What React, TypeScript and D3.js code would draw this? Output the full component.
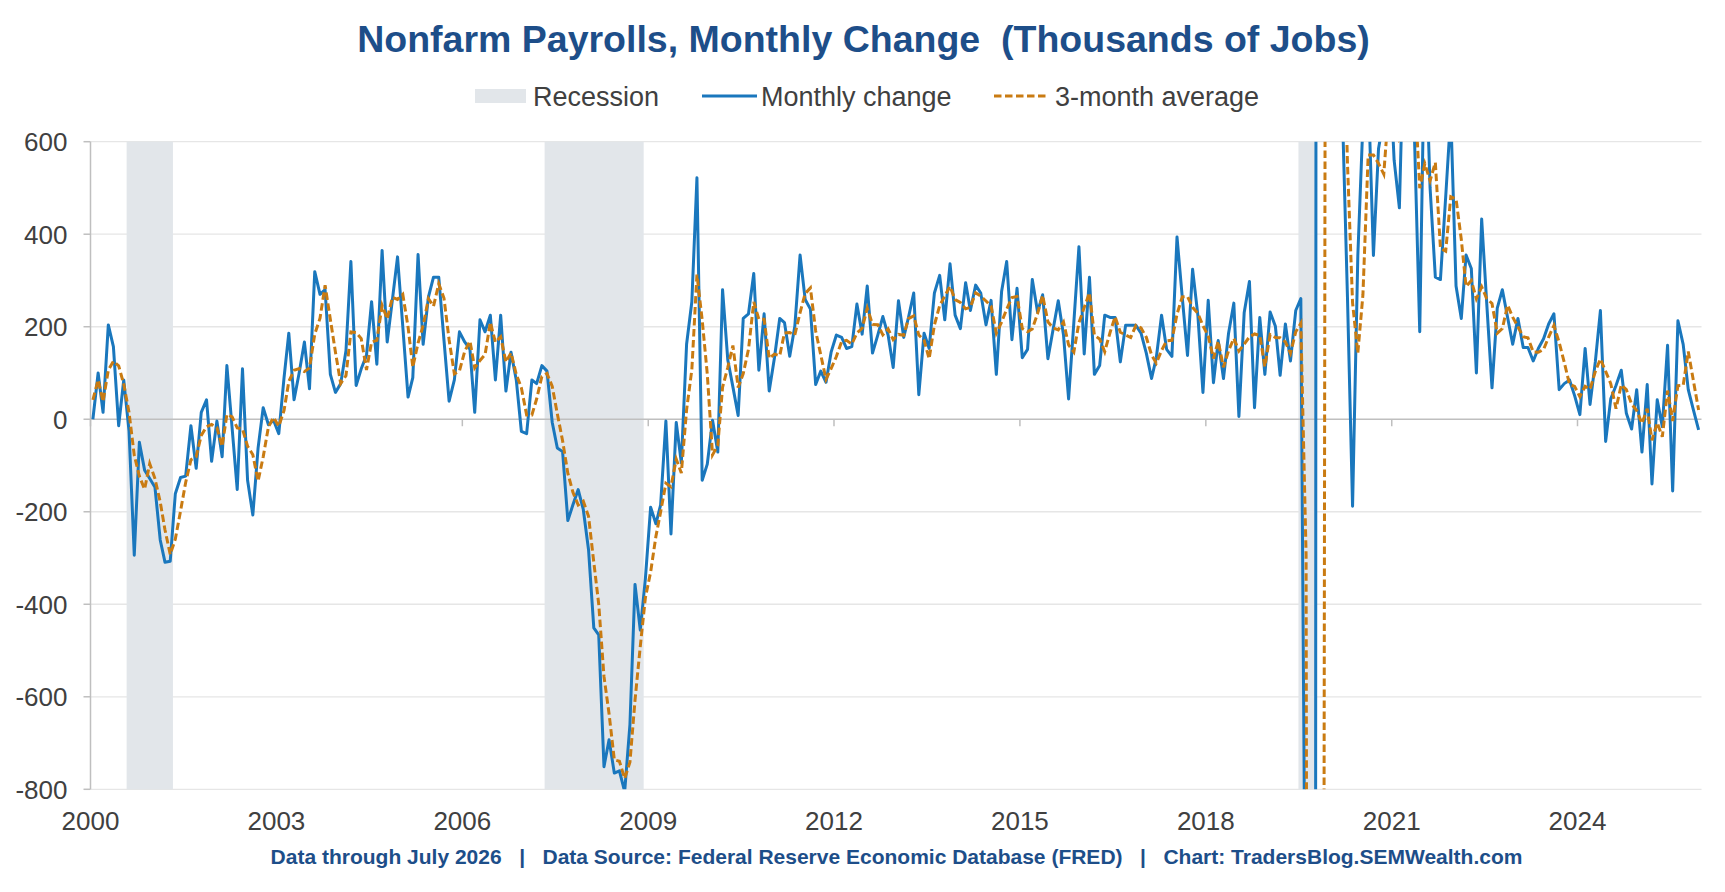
import * as d3 from 'd3'

// Monthly change in nonfarm payrolls (thousands), one value per month from Jan 2000
const monthlyChange = [
  0, 100, 15, 204, 157, -14, 85, -25, -294, -50,
  -110, -128, -147, -261, -309, -307, -161, -126, -123, -14,
  -106, 15, 42, -91, -4, -81, 116, -20, -152, 109,
  -132, -207, -62, 25, -12, -2, -31, 90, 186, 42,
  100, 167, 66, 319, 270, 280, 97, 58, 77, 148,
  341, 73, 109, 138, 254, 119, 365, 167, 259, 351,
  200, 48, 90, 356, 162, 264, 307, 307, 170, 39,
  85, 189, 167, 151, 15, 215, 189, 225, 85, 225,
  61, 145, 85, -26, -31, 85, 77, 116, 104, -7,
  -62, -70, -219, -185, -152, -195, -282, -451, -466, -751,
  -693, -765, -760, -805, -660, -357, -456, -345, -190, -226,
  -185, -4, -248, -7, -94, 162, 254, 522, -132, -97,
  -2, -71, 280, 128, 70, 8, 218, 228, 315, 106,
  228, 61, 133, 218, 209, 136, 201, 355, 259, 238,
  75, 104, 80, 145, 182, 177, 153, 157, 249, 184,
  288, 143, 182, 222, 182, 112, 256, 177, 220, 273,
  53, 186, 153, 273, 311, 215, 336, 225, 196, 295,
  235, 290, 273, 204, 257, 97, 276, 341, 172, 283,
  133, 151, 302, 232, 269, 131, 193, 256, 182, 44,
  210, 373, 141, 307, 97, 116, 225, 220, 220, 124,
  203, 203, 203, 186, 143, 88, 133, 225, 151, 136,
  394, 264, 138, 324, 225, 58, 257, 79, 170, 88,
  186, 251, 6, 230, 298, 25, 220, 97, 232, 201,
  95, 206, 126, 235, 261, -1373, -20477, 2833, 4846, 1726,
  1583, 716, 680, 263, -188, 354, 640, 720, 354, 585,
  651, 800, 560, 457, 850, 700, 610, 189, 858, 500,
  307, 302, 481, 660, 288, 218, 355, 326, 100, 433,
  250, 68, 240, 280, 220, 162, 218, 155, 155, 126,
  153, 174, 206, 228, 64, 77, 85, 51, 10, 153,
  32, 124, 235, -48, 44, 73, 106, 13, -21, 64,
  -71, 75, -140, 42, -16, 160, -155, 213, 162, 64,
  19, -23
]

// the two months before the series, only used to seed the trailing 3-month average
const priorMonths = [-29, 155]

const recessions = [
  ['2000-08-01', '2001-05-01'],
  ['2007-05-01', '2008-12-05'],
  ['2019-07-01', '2019-10-12']
]

const yTicks = [600, 400, 200, 0, -200, -400, -600, -800]
const xTickYears = [2000, 2003, 2006, 2009, 2012, 2015, 2018, 2021, 2024]

const titleText = 'Nonfarm Payrolls, Monthly Change  (Thousands of Jobs)'
const footerText = 'Data through July 2026   |   Data Source: Federal Reserve Economic Database (FRED)   |   Chart: TradersBlog.SEMWealth.com'

const W = 1725
const H = 892
const plot = { left: 90.5, right: 1701.5, top: 141.7, bottom: 789.3 }

const BLUE = '#1a77bd'
const ORANGE = '#c97b12'
const NAVY = '#1d4e89'
const TEXT = '#404040'
const BAND = '#e2e6ea'
const FONT = '"Liberation Sans", Arial, sans-serif'
const DASH = '7.5,3.5'

export default function App() {
  const x = d3.scaleTime()
    .domain([new Date(2000, 0, 1), new Date(2026, 0, 1)])
    .range([plot.left, plot.right])

  const y = d3.scaleLinear()
    .domain([-800, 600])
    .range([plot.bottom, plot.top])

  const monthDate = (i: number) => new Date(2000, i, 15)

  // trailing 3-month average
  const padded = priorMonths.concat(monthlyChange)
  const average = monthlyChange.map((_, i) => d3.mean(padded.slice(i, i + 3)) as number)

  const line = d3.line<number>()
    .x((_, i) => x(monthDate(i)))
    .y(d => y(d))

  const legendY = 96

  return (
    <div style={{ position: 'absolute', left: 0, top: 0 }}>
      <svg width={W} height={H} style={{ display: 'block', background: '#fff' }}>
        <defs>
          <clipPath id="plot-clip">
            <rect x={plot.left} y={plot.top} width={plot.right - plot.left} height={plot.bottom - plot.top} />
          </clipPath>
        </defs>

        <text x={863.5} y={51.5} textAnchor="middle" fill={NAVY} fontFamily={FONT}
          fontSize={37.5} fontWeight="bold" style={{ whiteSpace: 'pre' }}>
          {titleText}
        </text>

        {/* legend */}
        <g fontFamily={FONT} fontSize={27} fill={TEXT}>
          <rect x={475} y={legendY - 7} width={51} height={14} fill={BAND} />
          <text x={533} y={legendY + 9.7}>Recession</text>
          <line x1={702} x2={757} y1={legendY} y2={legendY} stroke={BLUE} strokeWidth={3} />
          <text x={761} y={legendY + 9.7}>Monthly change</text>
          <line x1={994} x2={1049} y1={legendY} y2={legendY} stroke={ORANGE} strokeWidth={3} strokeDasharray={DASH} />
          <text x={1055} y={legendY + 9.7}>3-month average</text>
        </g>

        {/* gridlines */}
        {yTicks.filter(t => t !== 0).map(t => (
          <line key={t} x1={plot.left} x2={plot.right} y1={y(t)} y2={y(t)} stroke="#e6e6e6" strokeWidth={1.3} />
        ))}

        {/* recession bands */}
        {recessions.map(([a, b]) => {
          const x0 = x(new Date(a))
          const x1 = x(new Date(b))
          return <rect key={a} x={x0} y={plot.top} width={x1 - x0} height={plot.bottom - plot.top} fill={BAND} />
        })}

        {/* axes */}
        <line x1={plot.left} x2={plot.right} y1={y(0)} y2={y(0)} stroke="#bfbfbf" strokeWidth={1.5} />
        <line x1={plot.left} x2={plot.left} y1={plot.top} y2={plot.bottom} stroke="#bfbfbf" strokeWidth={1.5} />
        {yTicks.map(t => (
          <g key={t}>
            <line x1={plot.left - 7} x2={plot.left} y1={y(t)} y2={y(t)} stroke="#bfbfbf" strokeWidth={1.5} />
            <text x={67.5} y={y(t) + 9.3} textAnchor="end" fill={TEXT} fontFamily={FONT} fontSize={26}>{t}</text>
          </g>
        ))}
        {xTickYears.map(yr => {
          const xt = x(new Date(yr, 0, 1))
          return (
            <g key={yr}>
              <line x1={xt} x2={xt} y1={y(0)} y2={y(0) + 7} stroke="#bfbfbf" strokeWidth={1.5} />
              <text x={xt} y={830} textAnchor="middle" fill={TEXT} fontFamily={FONT} fontSize={26}>{yr}</text>
            </g>
          )
        })}

        {/* series */}
        <g clipPath="url(#plot-clip)">
          <path d={line(monthlyChange) ?? ''} fill="none" stroke={BLUE} strokeWidth={3} strokeLinejoin="round" />
          <path d={line(average) ?? ''} fill="none" stroke={ORANGE} strokeWidth={3} strokeDasharray={DASH} />
        </g>

        <text x={896.5} y={863.5} textAnchor="middle" fill={NAVY} fontFamily={FONT}
          fontSize={21} fontWeight="bold" style={{ whiteSpace: 'pre' }}>
          {footerText}
        </text>
      </svg>
    </div>
  )
}
